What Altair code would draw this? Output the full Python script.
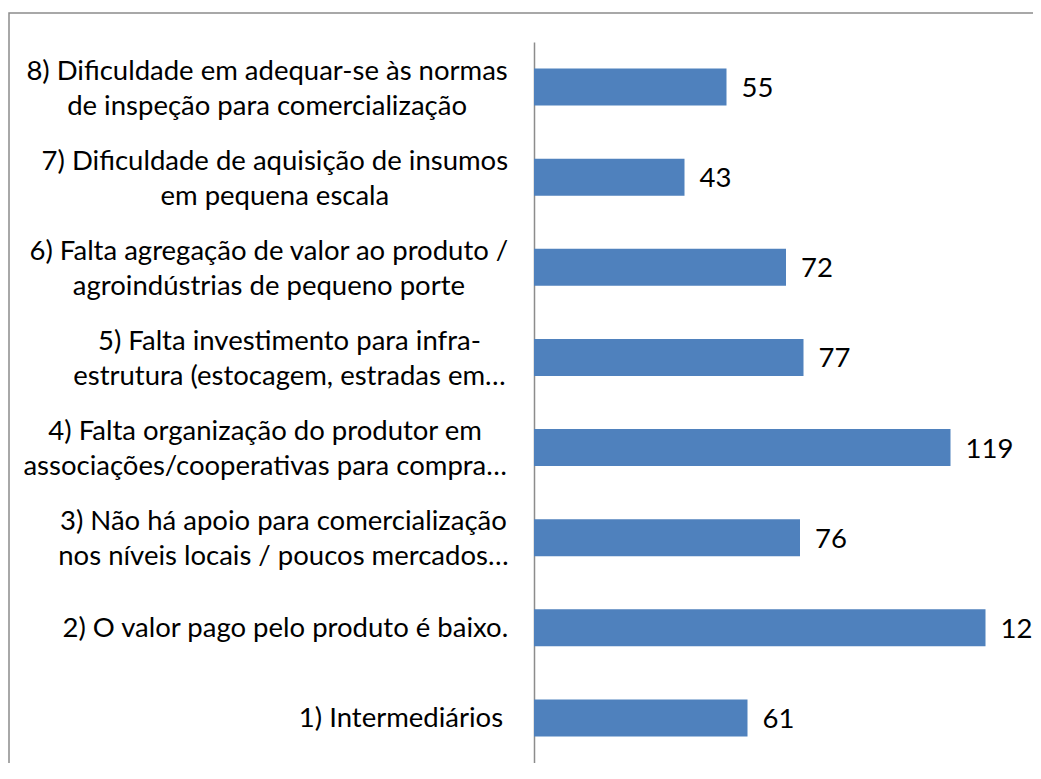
import altair as alt
import pandas as pd

# ---- data ----
labels = [
    "1) Intermediários",
    "2) O valor pago pelo produto é baixo.",
    "3) Não há apoio para comercialização\nnos níveis locais / poucos mercados…",
    "4) Falta organização do produtor em\nassociações/cooperativas para compra…",
    "5) Falta investimento para infra-\nestrutura (estocagem, estradas em…",
    "6) Falta agregação de valor ao produto /\nagroindústrias de pequeno porte",
    "7) Dificuldade de aquisição de insumos\nem pequena escala",
    "8) Dificuldade em adequar-se às normas\nde inspeção para comercialização",
]
values = [61, 129, 76, 119, 77, 72, 43, 55]

FONT = "Lato"
FS = 27.5
LINE_H = 35
LABEL_RIGHT = -31  # right edge of the label block, relative to the axis line

# approximate glyph advance widths (em) used to centre the multi-line labels
W = {' ': 0.193, 'a': 0.488, 'b': 0.548, 'c': 0.452, 'd': 0.548, 'e': 0.51,
     'f': 0.318, 'g': 0.49, 'h': 0.548, 'i': 0.234, 'j': 0.234, 'k': 0.5,
     'l': 0.234, 'm': 0.82, 'n': 0.548, 'o': 0.55, 'p': 0.54, 'q': 0.548,
     'r': 0.36, 's': 0.41, 't': 0.35, 'u': 0.548, 'v': 0.5, 'x': 0.48,
     'z': 0.44, 'à': 0.488, 'á': 0.488, 'ã': 0.488, 'é': 0.51, 'í': 0.234,
     'ç': 0.452, 'õ': 0.55, '(': 0.3, ')': 0.3, '/': 0.37, '-': 0.33,
     '.': 0.22, ',': 0.22, '…': 0.73, 'D': 0.72, 'F': 0.54, 'I': 0.28,
     'N': 0.75, 'O': 0.78}
for d in "0123456789":
    W[d] = 0.58


def est_width(s):
    return sum(W.get(ch, 0.5) for ch in s) * FS * 1.02


df = pd.DataFrame({"cat": labels, "value": values})
df["lines"] = [l.split("\n") for l in labels]
df["nlines"] = [len(l.split("\n")) for l in labels]
df["cx"] = [LABEL_RIGHT - max(est_width(x) for x in l.split("\n")) / 2 for l in labels]

order = list(reversed(labels))

y_enc = alt.Y(
    "cat:N",
    sort=order,
    scale=alt.Scale(paddingInner=0.59, paddingOuter=0.295),
    axis=alt.Axis(labels=False, ticks=False, title=None,
                  domainColor="#8c8c8c", domainWidth=1.5),
)
x_scale = alt.Scale(domain=[0, 140])

base = alt.Chart(df)

bars = base.mark_bar(color="#4F81BD").encode(
    x=alt.X("value:Q", scale=x_scale, axis=None),
    y=y_enc,
)

vals = base.mark_text(align="left", baseline="middle", dx=15, dy=2, font=FONT,
                      fontSize=FS, color="#000000").encode(
    x=alt.X("value:Q", scale=x_scale, axis=None),
    y=y_enc,
    text=alt.Text("value:Q"),
)

labs2 = base.transform_filter("datum.nlines > 1").mark_text(
    align="center", baseline="middle", font=FONT, fontSize=FS,
    lineHeight=LINE_H, dy=-(LINE_H / 2) + 2, color="#000000"
).encode(
    x=alt.X("cx:Q", scale=None, axis=None),
    y=y_enc,
    text=alt.Text("lines:N"),
)

labs1 = base.transform_filter("datum.nlines == 1").mark_text(
    align="center", baseline="middle", font=FONT, fontSize=FS,
    dy=1, color="#000000"
).encode(
    x=alt.X("cx:Q", scale=None, axis=None),
    y=y_enc,
    text=alt.Text("lines:N"),
)

border = alt.Chart(pd.DataFrame({"k": [0]})).mark_rect(
    fill="transparent", stroke="#8c8c8c", strokeWidth=1.5
).encode(
    x=alt.value(-525), x2=alt.value(700), y=alt.value(-29), y2=alt.value(800)
)

chart = alt.layer(border, bars, vals, labs2, labs1).resolve_scale(
    x="independent"
).properties(
    width=490,
    height=721,
    padding={"left": 526, "top": 34, "right": 9, "bottom": 0},
    autosize=alt.AutoSizeParams(type="none"),
).configure_view(strokeWidth=0)

chart.save("out.html", embed_options={"renderer": "svg", "actions": False})
